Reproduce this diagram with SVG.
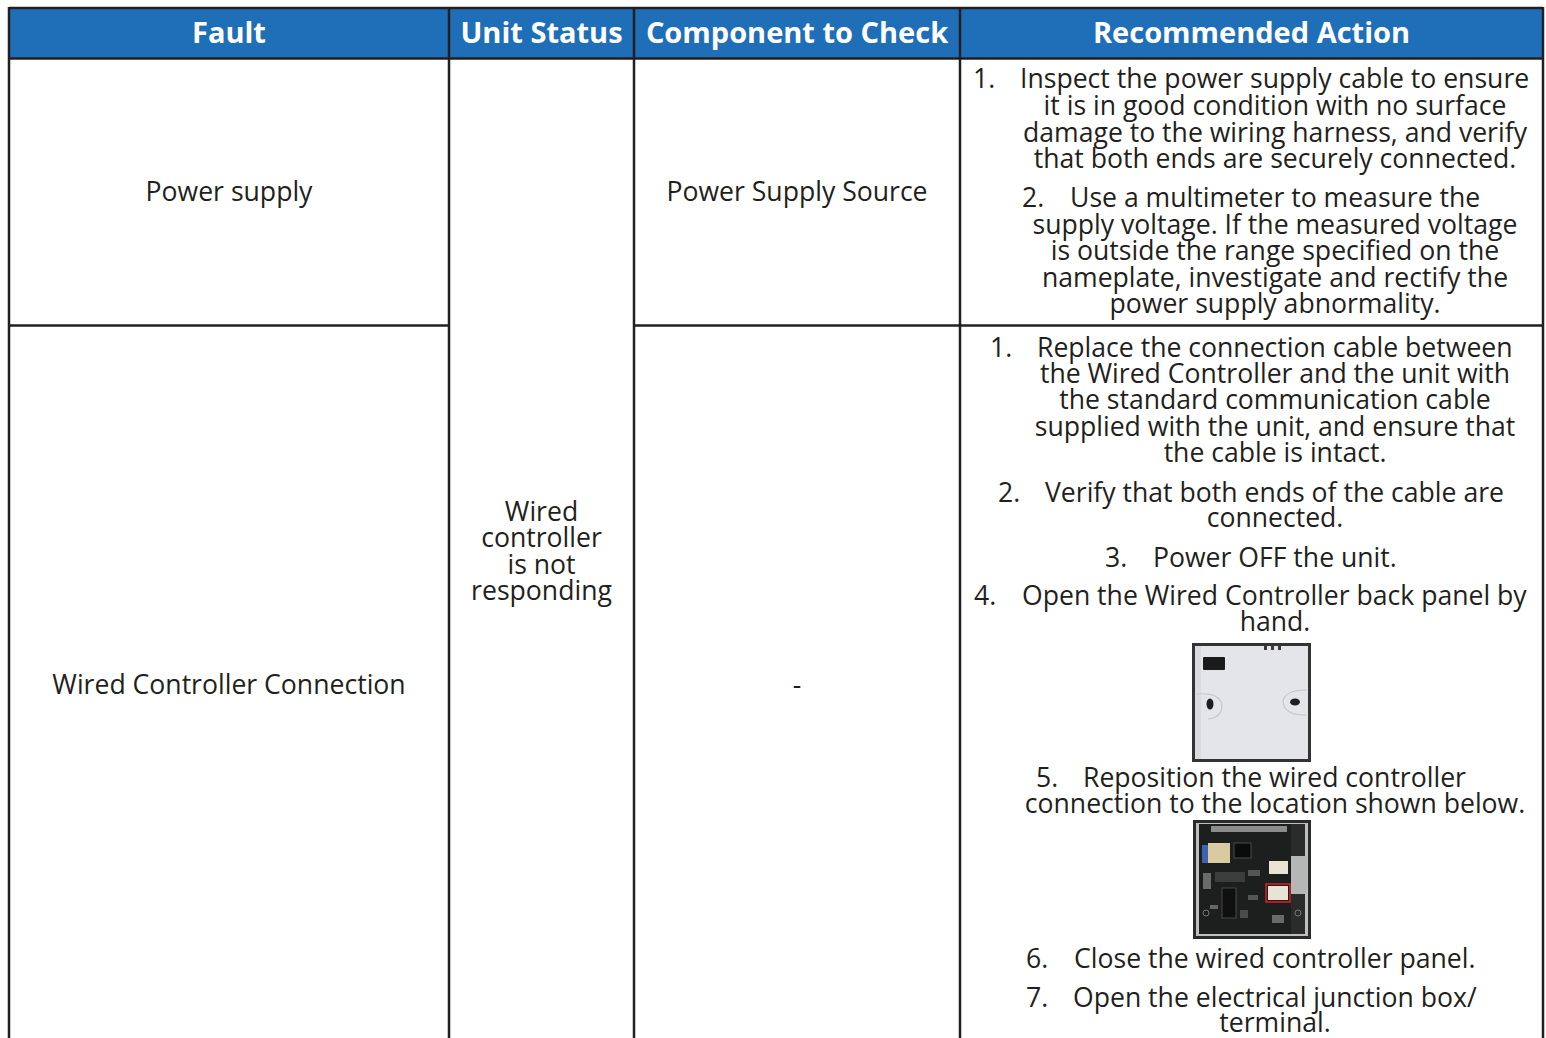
<svg xmlns="http://www.w3.org/2000/svg" width="1546" height="1038" viewBox="0 0 1546 1038">
<style>
.bg{fill:#ffffff}
.hdr{fill:#1f6eb8}
.ln{stroke:#231f20;stroke-width:2.5;fill:none}
.ht{font-family:"Open Sans","Noto Sans","Liberation Sans",sans-serif;font-weight:700;font-size:29px;fill:#ffffff;text-anchor:middle}
.t{font-family:"Open Sans","Noto Sans","Liberation Sans",sans-serif;font-size:26.6px;fill:#231f20}
.c{text-anchor:middle}
.s{text-anchor:start}
</style>
<rect class="bg" x="0" y="0" width="1546" height="1038"/>

<g id="header">
  <rect class="hdr" x="9" y="8" width="1534" height="50"/>
  <text class="ht" x="229" y="43">Fault</text>
  <text class="ht" x="541.5" y="43">Unit Status</text>
  <text class="ht" x="797" y="43">Component to Check</text>
  <text class="ht" x="1251.5" y="43">Recommended Action</text>
</g>

<g id="fault-power-supply">
  <text class="t c" x="229" y="201">Power supply</text>
</g>
<g id="fault-wired-controller">
  <text class="t c" x="229" y="694">Wired Controller Connection</text>
</g>
<g id="unit-status">
  <text class="t c" x="541.5" y="521">Wired</text>
  <text class="t c" x="541.5" y="547">controller</text>
  <text class="t c" x="541.5" y="574">is not</text>
  <text class="t c" x="541.5" y="600">responding</text>
</g>
<g id="component-power">
  <text class="t c" x="797" y="201">Power Supply Source</text>
</g>
<g id="component-wired">
  <text class="t c" x="797" y="694">-</text>
</g>

<g id="action-power">
  <text class="t s" x="973" y="88">1.</text>
  <text class="t s" x="1020" y="88">Inspect the power supply cable to ensure</text>
  <text class="t c" x="1275" y="115">it is in good condition with no surface</text>
  <text class="t c" x="1275" y="141.5">damage to the wiring harness, and verify</text>
  <text class="t c" x="1275" y="168">that both ends are securely connected.</text>
  <text class="t s" x="1022" y="207">2.</text>
  <text class="t s" x="1070" y="207">Use a multimeter to measure the</text>
  <text class="t c" x="1275" y="233.5">supply voltage. If the measured voltage</text>
  <text class="t c" x="1275" y="260">is outside the range specified on the</text>
  <text class="t c" x="1275" y="286.5">nameplate, investigate and rectify the</text>
  <text class="t c" x="1275" y="313">power supply abnormality.</text>
</g>

<g id="action-wired">
  <text class="t s" x="990" y="356.5">1.</text>
  <text class="t s" x="1037" y="356.5">Replace the connection cable between</text>
  <text class="t c" x="1275" y="382.5">the Wired Controller and the unit with</text>
  <text class="t c" x="1275" y="409">the standard communication cable</text>
  <text class="t c" x="1275" y="435.5">supplied with the unit, and ensure that</text>
  <text class="t c" x="1275" y="462">the cable is intact.</text>
  <text class="t s" x="998" y="501.5">2.</text>
  <text class="t s" x="1045" y="501.5">Verify that both ends of the cable are</text>
  <text class="t c" x="1275" y="527">connected.</text>
  <text class="t s" x="1105" y="566.5">3.</text>
  <text class="t s" x="1153" y="566.5">Power OFF the unit.</text>
  <text class="t s" x="974" y="605">4.</text>
  <text class="t s" x="1022" y="605">Open the Wired Controller back panel by</text>
  <text class="t c" x="1275" y="631">hand.</text>

  <g id="photo-back-panel">
    <rect x="1192" y="643" width="119" height="119" fill="#333333"/>
    <rect x="1195" y="646" width="113" height="113" fill="#e3e5e9"/>
    <rect x="1195" y="646" width="6" height="113" fill="#d9dbdf"/>
    <rect x="1203" y="657" width="22" height="13" rx="1" fill="#1b1b1b"/>
    <rect x="1264" y="646" width="3" height="4" fill="#3a3a3a"/>
    <rect x="1271" y="646" width="3" height="4" fill="#3a3a3a"/>
    <rect x="1278" y="646" width="3" height="4" fill="#3a3a3a"/>
    <path d="M1196,694 Q1221,692 1222,706 Q1221,718 1208,719" stroke="#c3c6cb" stroke-width="1.2" fill="none"/>
    <ellipse cx="1210" cy="704" rx="3.5" ry="5.5" fill="#1e1e1e"/>
    <path d="M1307,690 Q1284,690 1283,702 Q1285,716 1307,715" stroke="#c3c6cb" stroke-width="1.2" fill="none"/>
    <ellipse cx="1295" cy="702" rx="5" ry="3.5" fill="#1e1e1e"/>
  </g>

  <text class="t s" x="1036" y="787">5.</text>
  <text class="t s" x="1083" y="787">Reposition the wired controller</text>
  <text class="t c" x="1275" y="813">connection to the location shown below.</text>

  <g id="photo-pcb">
    <rect x="1193" y="820" width="118" height="119" fill="#2a2a2a"/>
    <rect x="1196" y="823" width="112" height="113" fill="#bdbebe"/>
    <rect x="1199" y="824" width="92" height="110" fill="#1d1e1e"/>
    <rect x="1291" y="824" width="14" height="32" fill="#2a2b2b"/>
    <rect x="1291" y="894" width="14" height="40" fill="#2a2b2b"/>
    <rect x="1291" y="856" width="16" height="38" fill="#b5b6b6"/>
    <rect x="1211" y="826" width="76" height="6" fill="#8c8c8c"/>
    <rect x="1202" y="845" width="10" height="18" fill="#3a64b2"/>
    <rect x="1208" y="843" width="22" height="20" fill="#d9caa2"/>
    <rect x="1234" y="843" width="17" height="15" fill="#0b0b0b" stroke="#4a4a4a" stroke-width="1"/>
    <rect x="1203" y="873" width="8" height="16" fill="#6a6a6a"/>
    <rect x="1215" y="872" width="30" height="10" fill="#3c3c3c"/>
    <rect x="1222" y="888" width="14" height="30" fill="#0f0f0f" stroke="#555" stroke-width="0.8"/>
    <rect x="1248" y="870" width="12" height="6" fill="#555"/>
    <rect x="1248" y="895" width="10" height="5" fill="#555"/>
    <rect x="1210" y="905" width="8" height="4" fill="#666"/>
    <rect x="1240" y="910" width="8" height="8" fill="#4a4a4a"/>
    <rect x="1272" y="915" width="12" height="8" fill="#6a6a6a"/>
    <circle cx="1206" cy="913" r="3" fill="none" stroke="#777" stroke-width="1"/>
    <circle cx="1298" cy="913" r="3" fill="none" stroke="#777" stroke-width="1"/>
    <rect x="1269" y="861" width="19" height="13" fill="#e9e3d6"/>
    <rect x="1268" y="886" width="20" height="14" fill="#e9e3d6"/>
    <rect x="1266" y="884" width="24" height="18" fill="none" stroke="#d8232a" stroke-width="1.5"/>
  </g>

  <text class="t s" x="1026" y="968">6.</text>
  <text class="t s" x="1074" y="968">Close the wired controller panel.</text>
  <text class="t s" x="1026" y="1007">7.</text>
  <text class="t s" x="1073" y="1007">Open the electrical junction box/</text>
  <text class="t c" x="1275" y="1032">terminal.</text>
</g>

<g id="connectors">
  <line class="ln" x1="9" y1="8" x2="1543" y2="8"/>
  <line class="ln" x1="9" y1="58.5" x2="1543" y2="58.5"/>
  <line class="ln" x1="9" y1="325.5" x2="449" y2="325.5"/>
  <line class="ln" x1="634" y1="325.5" x2="1543" y2="325.5"/>
  <line class="ln" x1="9" y1="7" x2="9" y2="1038"/>
  <line class="ln" x1="449" y1="7" x2="449" y2="1038"/>
  <line class="ln" x1="634" y1="7" x2="634" y2="1038"/>
  <line class="ln" x1="960" y1="7" x2="960" y2="1038"/>
  <line class="ln" x1="1543" y1="7" x2="1543" y2="1038"/>
</g>
</svg>
